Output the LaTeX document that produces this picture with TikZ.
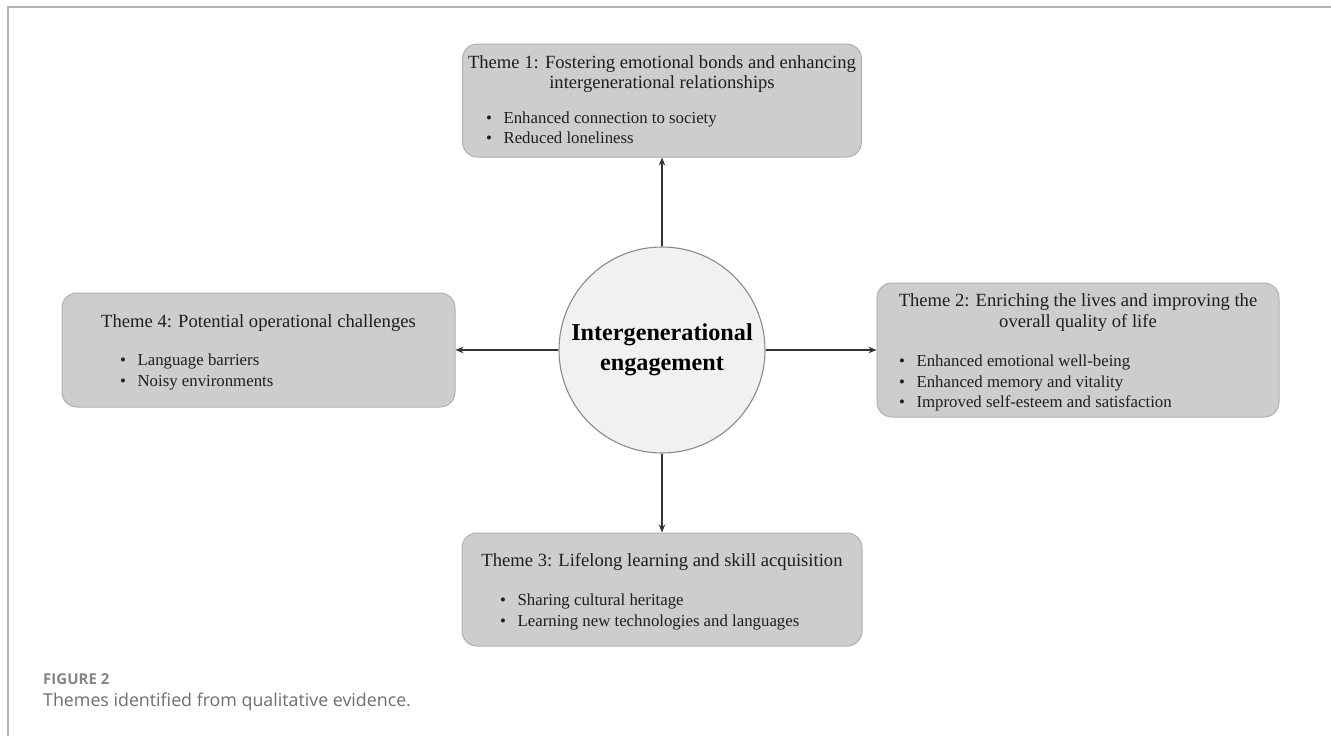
\documentclass[tikz,border=0pt]{standalone}
\usepackage{fontspec}
\setmainfont{Liberation Serif}
\newfontfamily\capfont{Open Sans}
\usetikzlibrary{arrows.meta}
\definecolor{boxfill}{HTML}{CDCDCD}
\definecolor{boxline}{HTML}{AFAFAF}
\definecolor{circfill}{HTML}{F1F1F1}
\definecolor{circline}{HTML}{8A8A8A}
\definecolor{arrcol}{HTML}{333333}
\definecolor{txtcol}{HTML}{1E1E1E}
\definecolor{capcol}{HTML}{6E6E6E}
\definecolor{capcolb}{HTML}{858585}
\definecolor{framecol}{HTML}{B4B4B4}
\newcommand{\bulletlist}[1]{\begin{tabular}{@{}l@{\hspace{11.5pt}}l@{}}#1\end{tabular}}
\tikzset{
  themebox/.style={draw=boxline, line width=1pt, fill=boxfill, rounded corners=15pt, inner sep=0pt},
  titletext/.style={inner sep=0pt, align=center, text=txtcol, font=\fontsize{18.6}{20.5}\selectfont},
  listtext/.style={inner sep=0pt, anchor=west, text=txtcol, font=\fontsize{16.8}{20.5}\selectfont},
  hub/.style={circle, draw=circline, line width=1.1pt, fill=circfill, minimum size=206pt, inner sep=0pt, align=center, text=black, font=\fontsize{24.2}{30}\selectfont\bfseries},
  arr/.style={draw=arrcol, line width=1.1pt, -{Stealth[length=8pt,width=6.5pt]}},
  frameline/.style={draw=framecol, line width=2pt}
}
\begin{document}
\begin{tikzpicture}[x=1pt,y=-1pt]
\useasboundingbox (0,0) rectangle (1331,736);
% frame
\coordinate (fa) at (8,736);
\coordinate (fb) at (8,7);
\coordinate (fc) at (1331,7);
\draw[frameline] (fa) -- (fb) -- (fc);
% hub
\node[hub] (c) at (662,350) {Intergenerational\\engagement};
% theme 1
\node[themebox, minimum width=399pt, minimum height=113pt] (t1) at (662,100.5) {};
\node[titletext] (t1h) at (662,74) {Theme 1: Fostering emotional bonds and enhancing\\intergenerational relationships};
\node[listtext] (t1l) at (486,129.5) {\bulletlist{\textbullet & Enhanced connection to society\\ \textbullet & Reduced loneliness}};
% theme 2
\node[themebox, minimum width=402pt, minimum height=134pt] (t2) at (1078,350) {};
\node[titletext] (t2h) at (1078,312.5) {Theme 2: Enriching the lives and improving the\\overall quality of life};
\node[listtext] (t2l) at (899,383) {\bulletlist{\textbullet & Enhanced emotional well-being\\ \textbullet & Enhanced memory and vitality\\ \textbullet & Improved self-esteem and satisfaction}};
% theme 3
\node[themebox, minimum width=400pt, minimum height=113pt] (t3) at (662,589.5) {};
\node[titletext] (t3h) at (662,562) {Theme 3: Lifelong learning and skill acquisition};
\node[listtext] (t3l) at (500,612) {\bulletlist{\textbullet & Sharing cultural heritage\\ \textbullet & Learning new technologies and languages}};
% theme 4
\node[themebox, minimum width=393pt, minimum height=114pt] (t4) at (258.5,350) {};
\node[titletext] (t4h) at (258.5,323) {Theme 4: Potential operational challenges};
\node[listtext] (t4l) at (120,372) {\bulletlist{\textbullet & Language barriers\\ \textbullet & Noisy environments}};
% connectors
\draw[arr] (c.north) -- (t1.south);
\draw[arr] (c.east) -- (t2.west);
\draw[arr] (c.south) -- (t3.north);
\draw[arr] (c.west) -- (t4.east);
% caption
\node[inner sep=0pt, anchor=west, text=capcolb, font=\capfont\bfseries\fontsize{15}{17}\selectfont] (cap1) at (43,679) {FIGURE 2};
\node[inner sep=0pt, anchor=west, text=capcol, font=\capfont\fontsize{17.8}{20}\selectfont] (cap2) at (43,702) {Themes identified from qualitative evidence.};
\end{tikzpicture}
\end{document}
